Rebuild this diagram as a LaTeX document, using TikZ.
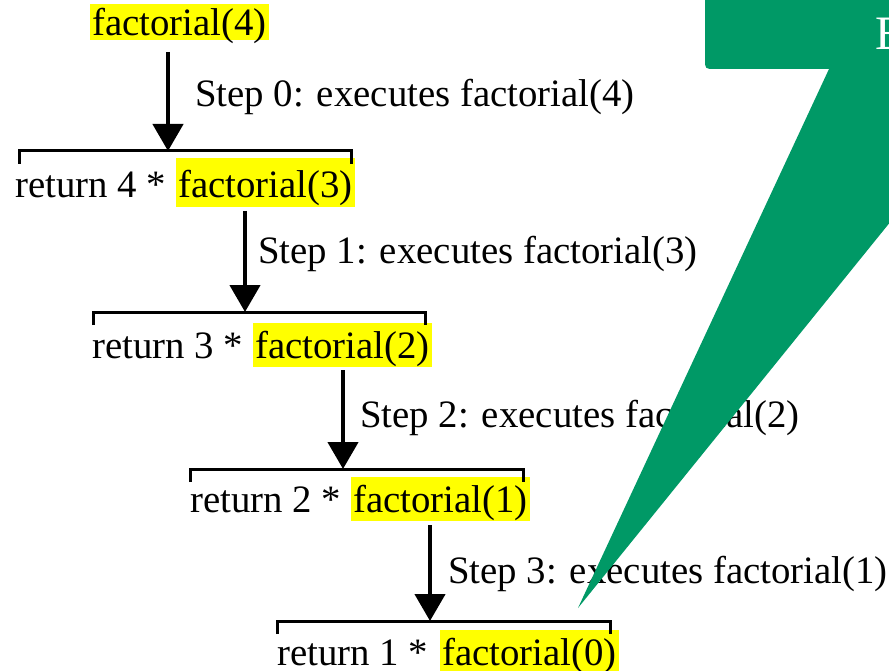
\documentclass[tikz,border=0pt]{standalone}
\usepackage{fontspec}
\setmainfont{Liberation Serif}
\usetikzlibrary{arrows.meta}
\definecolor{calloutgreen}{RGB}{0,153,102}
\definecolor{hlyellow}{RGB}{255,255,0}
\begin{document}
\begin{tikzpicture}[x=1pt,y=-1pt,
  txt/.style={anchor=base west,inner sep=0pt,font=\fontsize{38.8}{47}\selectfont},
  hl/.style={txt,fill=hlyellow,inner xsep=2pt,text height=35pt,text depth=9pt},
  bracket/.style={line width=3pt},
  flow/.style={line width=4.5pt,-{Triangle[width=30pt,length=27pt]}},
  callout/.style={fill=calloutgreen,draw=none}]
\useasboundingbox (0,0) rectangle (889,671);
\begin{scope}
\clip (0,0) rectangle (889,671);

% call chain rows
\node[hl,text height=32pt,text depth=4pt] (f4) at (90,36) {factorial(4)};

\node[txt] (r1) at (15,198) {return 4 *};
\node[hl,text height=40pt] (f3) at (176,198) {factorial(3)};

\node[txt] (r2) at (92,358) {return 3 *};
\node[hl] (f2) at (253,358) {factorial(2)};

\node[txt] (r3) at (190,512) {return 2 *};
\node[hl] (f1) at (351,512) {factorial(1)};

\node[txt] (r4) at (277,665) {return 1 *};
\node[hl] (f0) at (440,665) {factorial(0)};

% brackets above each call
\draw[bracket] (19,164) -- (19,151) -- (351,151) -- (351,164);
\draw[bracket] (93,325) -- (93,312) -- (425,312) -- (425,325);
\draw[bracket] (190,482) -- (190,469) -- (523,469) -- (523,482);
\draw[bracket] (277,634) -- (277,621) -- (610,621) -- (610,634);

% arrow end points
\coordinate (s0) at (168,52);  \coordinate (t0) at (168,151);
\coordinate (s1) at (245,211); \coordinate (t1) at (245,312);
\coordinate (s2) at (343,370); \coordinate (t2) at (343,469);
\coordinate (s3) at (430,525); \coordinate (t3) at (430,621);

\draw[flow] (s0) -- (t0);
\draw[flow] (s1) -- (t1);
\draw[flow] (s2) -- (t2);
\draw[flow] (s3) -- (t3);

% step labels
\node[txt] (l0) at (195,107) {Step 0: executes factorial(4)};
\node[txt] (l1) at (258,264) {Step 1: executes factorial(3)};
\node[txt] (l2) at (360,427) {Step 2: executes factorial(2)};
\node[txt] (l3) at (448,583) {Step 3: executes factorial(1)};

% callout balloon: rounded box corner, sharp pointer
\fill[callout] (705,-20) -- (705,59) .. controls (705,69) .. (715,69)
  -- (829,69) -- (578,608) -- (1014,69) -- (1014,-20) -- cycle;
\node[anchor=base west,inner sep=0pt,text=white,font=\fontsize{48}{56}\selectfont] (ctext) at (875,50) {E};
\end{scope}
\end{tikzpicture}
\end{document}
